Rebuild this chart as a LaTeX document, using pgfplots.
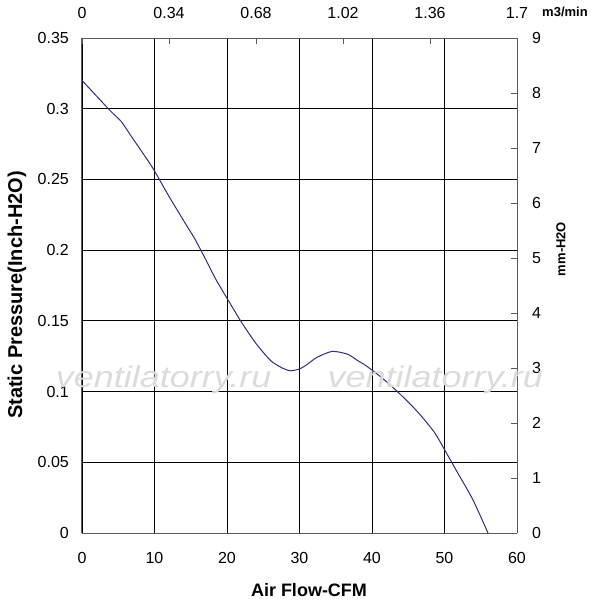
\documentclass[border=0pt]{standalone}
\usepackage{fontspec}
\setmainfont{Liberation Sans}
\usepackage{pgfplots}
\pgfplotsset{compat=1.18}
\definecolor{curve}{RGB}{45,45,135}
\definecolor{frame}{RGB}{90,90,90}
\begin{document}
\begin{tikzpicture}
\path (-82pt,-67pt) rectangle (518pt,533pt);
\begin{axis}[
 at={(0pt,0pt)}, anchor=south west,
 scale only axis, width=435pt, height=495pt,
 xmin=0,xmax=60,ymin=0,ymax=0.35,
 xtick={0,10,20,30,40,50,60}, ytick={0,0.05,0.1,0.15,0.2,0.25,0.3,0.35},
 yticklabels={0,0.05,0.1,0.15,0.2,0.25,0.3,0.35},
 xticklabels={0,10,20,30,40,50,60},
 axis x line*=bottom, axis y line*=left,
 axis line style={frame, line width=1pt, -},
 grid=major, major grid style={black, line width=0.8pt},
 major tick length=0pt,
 tick label style={font=\fontsize{16}{18}\selectfont, inner sep=0pt},
 xticklabel style={anchor=north, yshift=-19pt},
 yticklabel style={anchor=east, xshift=-13pt},
 /pgf/number format/assume math mode=true,
]
\addplot[curve, line width=1pt, smooth, tension=0.4] coordinates {
(0,0.320) (2,0.309) (4,0.298) (5.4,0.291) (7,0.279) (9,0.264) (10,0.256)
(12,0.238) (14,0.221) (15.5,0.2085) (17,0.194) (18.5,0.179) (20,0.166)
(22,0.149) (24,0.134) (26,0.122) (27.5,0.117) (28.7,0.1147) (30,0.116)
(31,0.119) (32.4,0.1242) (34.5,0.1284) (36.6,0.1265) (38,0.122) (39.2,0.1182)
(41.3,0.110) (43.4,0.1005) (45.5,0.090) (47,0.0815) (48.7,0.0705) (50,0.059)
(51.8,0.0427) (53.9,0.0237) (56,0)
};
\end{axis}
\begin{axis}[
 at={(0pt,0pt)}, anchor=south west,
 scale only axis, width=435pt, height=495pt,
 xmin=0,xmax=1.7,ymin=0,ymax=9,
 axis x line*=top, axis y line*=right,
 xtick={0,0.34,0.68,1.02,1.36,1.7}, xticklabels={0,0.34,0.68,1.02,1.36,1.7},
 ytick={0,1,2,3,4,5,6,7,8,9}, yticklabels={0,1,2,3,4,5,6,7,8,9},
 tick align=inside, major tick length=6pt, tick style={frame, line width=0.8pt},
 axis line style={frame, line width=1pt, -},
 tick label style={font=\fontsize{16}{18}\selectfont, inner sep=0pt},
 xticklabel style={anchor=south, yshift=19pt},
 yticklabel style={anchor=west, xshift=15pt},
]
\addplot[draw=none] coordinates {(0,0) (1.7,9)};
\end{axis}
\node[font=\bfseries\fontsize{18}{20}\selectfont] at (227pt,-57pt) {Air Flow-CFM};
\node[rotate=90,font=\bfseries\fontsize{20}{22}\selectfont] at (-65pt,238pt) {Static Pressure(Inch-H2O)};
\node[rotate=90,font=\bfseries\fontsize{13}{15}\selectfont] at (479pt,284pt) {mm-H2O};
\node[font=\bfseries\fontsize{13}{15}\selectfont] at (483pt,521pt) {m3/min};
\node[font=\itshape\fontsize{30}{32}\selectfont, text=gray!28, xscale=1.2, transform shape] at (81.6pt,153pt) {ventilatorry.ru};
\node[font=\itshape\fontsize{30}{32}\selectfont, text=gray!28, xscale=1.2, transform shape] at (353.3pt,153pt) {ventilatorry.ru};
\end{tikzpicture}
\end{document}
